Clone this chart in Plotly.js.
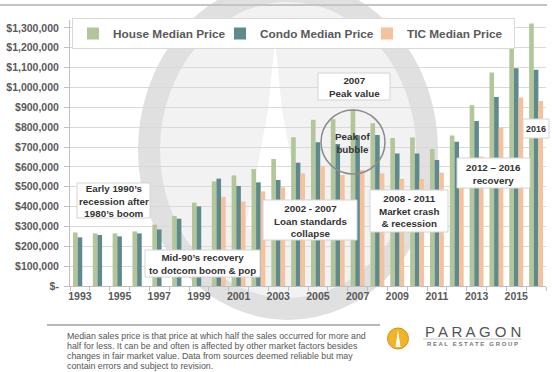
<!DOCTYPE html>
<html><head><meta charset="utf-8">
<script src="https://cdn.plot.ly/plotly-3.0.1.min.js"></script>
<style>html,body{margin:0;padding:0;background:#fff;} #chart{width:554px;height:372px;}</style>
</head><body><div id="chart"></div>
<script>
// ---------- DATA ----------
const years = [1993,1994,1995,1996,1997,1998,1999,2000,2001,2002,2003,2004,2005,2006,2007,2008,2009,2010,2011,2012,2013,2014,2015,2016];
const houseMedian = [270000,265000,265000,275000,309000,353000,420000,527000,557000,589000,640000,749000,838000,840000,890000,820000,745000,748000,690000,758000,910000,1075000,1248000,1322000];
const condoMedian = [245000,257000,250000,265000,285000,339000,401000,541000,504000,522000,534000,621000,724000,715000,759000,761000,668000,668000,635000,727000,831000,952000,1097000,1090000];
const ticMedian   = [null,null,null,null,null,null,null,450000,425000,477000,497000,568000,605000,559000,585000,568000,539000,539000,571000,600000,652000,797000,949000,932000];
const seriesNames = ["House Median Price","Condo Median Price","TIC Median Price"];
const xTickYears = [1993,1995,1997,1999,2001,2003,2005,2007,2009,2011,2013,2015];
const yTickValues = [0,100000,200000,300000,400000,500000,600000,700000,800000,900000,1000000,1100000,1200000,1300000];
const yTickLabels = ["$-","$100,000","$200,000","$300,000","$400,000","$500,000","$600,000","$700,000","$800,000","$900,000","$1,000,000","$1,100,000","$1,200,000","$1,300,000"];
const noteLines = [
  "Median sales price is that price at which half the sales occurred for more and",
  "half for less. It can be and often is affected by other market factors besides",
  "changes in fair market value. Data from sources deemed reliable but may",
  "contain errors and subject to revision."
];

// ---------- GEOMETRY HELPERS ----------
const L = 70, R = 546, T = 20, B = 286;
const px = x => (x - L) / (R - L);
const py = y => (B - y) / (B - T);
const FONT = "Liberation Sans, Arial, sans-serif";
const COLORS = ["#b3c699", "#5e8a8c", "#f5c29d"];

function box(x0, y0, x1, y1) {
  return {type:'rect', xref:'paper', yref:'paper', x0:px(x0), x1:px(x1), y0:py(y1), y1:py(y0),
    fillcolor:'#ffffff', line:{color:'#d4d4d4', width:1}, layer:'above'};
}
function label(cx, cy, text, size) {
  return {xref:'paper', yref:'paper', x:px(cx), y:py(cy), xanchor:'center', yanchor:'middle',
    text:text, showarrow:false, align:'center',
    font:{family:FONT, size:size || 9.8, color:'#333333', weight:'bold'}};
}
function pathPx(pts) {
  return 'M' + pts.map(p => px(p[0]).toFixed(4) + ',' + py(p[1]).toFixed(4)).join(' L') + ' Z';
}

const wcx = 288, wcy = 150;

const shapes = [
  {type:'circle', xref:'paper', yref:'paper', layer:'below',
   x0:px(wcx-130), x1:px(wcx+130), y0:py(wcy+150), y1:py(wcy-150),
   fillcolor:'#f2f2f2', line:{width:0}},
  {type:'circle', xref:'paper', yref:'paper', layer:'below',
   x0:px(wcx-139), x1:px(wcx+139), y0:py(wcy+159), y1:py(wcy-159),
   fillcolor:'rgba(0,0,0,0)', line:{color:'#e0e0e0', width:22}},
  {type:'path', xref:'paper', yref:'paper', layer:'below',
   path:pathPx([[275,40],[268,110],[255,180],[246,225],[262,240],[288,240],[304,225],[295,180],[282,110]]),
   fillcolor:'#ffffff', line:{width:0}},
  {type:'line', xref:'paper', yref:'paper', x0:px(0), x1:px(547), y0:py(5), y1:py(5),
   line:{color:'#c4c4c4', width:2}},
  {type:'line', xref:'paper', yref:'paper', x0:px(47), x1:px(380), y0:py(325), y1:py(325),
   line:{color:'#b8b8b8', width:2}},
  box(77,183,150,218),
  box(145,250,260,277),
  box(263,200,357,240),
  box(318,73,390,100),
  box(370,190,448,232),
  box(457,158,530,188),
  box(523,119,549,138),
  {type:'circle', xref:'paper', yref:'paper', layer:'above',
   x0:px(321), x1:px(385), y0:py(174), y1:py(110),
   fillcolor:'rgba(0,0,0,0)', line:{color:'#8c8c8c', width:1.5}},
  {type:'circle', xref:'paper', yref:'paper', x0:px(387.5), x1:px(408.5), y0:py(349), y1:py(328),
   fillcolor:'#f0b429', line:{color:'#d08f15', width:1}},
  {type:'path', xref:'paper', yref:'paper', path:pathPx([[398,330],[395.5,347],[400.5,347]]),
   fillcolor:'#ffffff', line:{width:0}},
  {type:'line', xref:'paper', yref:'paper', x0:px(423), x1:px(522), y0:py(339), y1:py(339),
   line:{color:'#c8c8c8', width:1}}
];

const noteY = [336, 346, 356, 366];
const annotations = [
  label(113.5, 200.5, "Early 1990’s<br>recession after<br>1980’s boom"),
  label(202.5, 263.5, "Mid-90’s recovery<br>to dotcom boom & pop"),
  label(310, 220.5, "2002 - 2007<br>Loan standards<br>collapse"),
  label(354, 86.5, "2007<br>Peak value"),
  label(353, 143, "Peak of<br>bubble"),
  label(409, 211, "2008 - 2011<br>Market crash<br>& recession"),
  label(493.5, 173.5, "2012 – 2016<br>recovery"),
  label(536, 128.5, "2016", 9),
  {xref:'paper', yref:'paper', x:px(472.5), y:py(331), xanchor:'center', yanchor:'middle', showarrow:false,
   text:"P A R A G O N", font:{family:FONT, size:15, color:'#555555'}},
  {xref:'paper', yref:'paper', x:px(472.5), y:py(344), xanchor:'center', yanchor:'middle', showarrow:false,
   text:"R E A L &nbsp; E S T A T E &nbsp; G R O U P", font:{family:FONT, size:6, color:'#777777', weight:'bold'}}
].concat(noteLines.map((t, i) => ({
  xref:'paper', yref:'paper', x:px(65), y:py(noteY[i]), xanchor:'left', yanchor:'middle', showarrow:false,
  align:'left', text:t, font:{family:FONT, size:8.8, color:'#555555'}
})));

const seriesValues = [houseMedian, condoMedian, ticMedian];
const data = seriesValues.map((vals, i) => ({
  type:'bar', name:seriesNames[i], x:years, y:vals,
  marker:{color:COLORS[i], line:{width:0}}, hoverinfo:'skip'
}));

const layout = {
  width:554, height:372,
  margin:{l:L, r:554-R, t:T, b:372-B, pad:0},
  paper_bgcolor:'#ffffff', plot_bgcolor:'rgba(0,0,0,0)',
  font:{family:FONT, color:'#595959'},
  barmode:'group', bargap:0.3, bargroupgap:0,
  showlegend:true,
  legend:{orientation:'h', x:px(72), y:py(18), xanchor:'left', yanchor:'top',
    bgcolor:'#ffffff', bordercolor:'#d9d9d9', borderwidth:1, traceorder:'normal',
    entrywidth:102, entrywidthmode:'pixels',
    font:{family:FONT, size:11.8, color:'#595959', weight:'bold'}},
  xaxis:{type:'linear', range:[1992.5, 2016.5], tickmode:'array', tickvals:xTickYears,
    ticktext:xTickYears.map(String), ticks:'', showgrid:false, zeroline:false,
    showline:true, linecolor:'#bfbfbf', linewidth:1,
    tickfont:{family:FONT, size:10.5, color:'#595959', weight:'bold'},
    minor:{ticks:'outside', tickmode:'linear', tick0:1992.5, dtick:1, ticklen:4, tickcolor:'#bfbfbf', showgrid:false},
    fixedrange:true},
  yaxis:{range:[0, 1340000], tickmode:'array', tickvals:yTickValues, ticktext:yTickLabels,
    showgrid:true, gridcolor:'#d9d9d9', gridwidth:1, zeroline:false,
    showline:true, linecolor:'#bfbfbf', linewidth:1,
    ticks:'outside', ticklen:5, tickcolor:'#bfbfbf', ticklabelstandoff:3,
    tickfont:{family:FONT, size:10.5, color:'#595959', weight:'bold'},
    fixedrange:true},
  shapes:shapes,
  annotations:annotations
};

Plotly.newPlot('chart', data, layout, {staticPlot:true, displayModeBar:false});
</script>
</body></html>
